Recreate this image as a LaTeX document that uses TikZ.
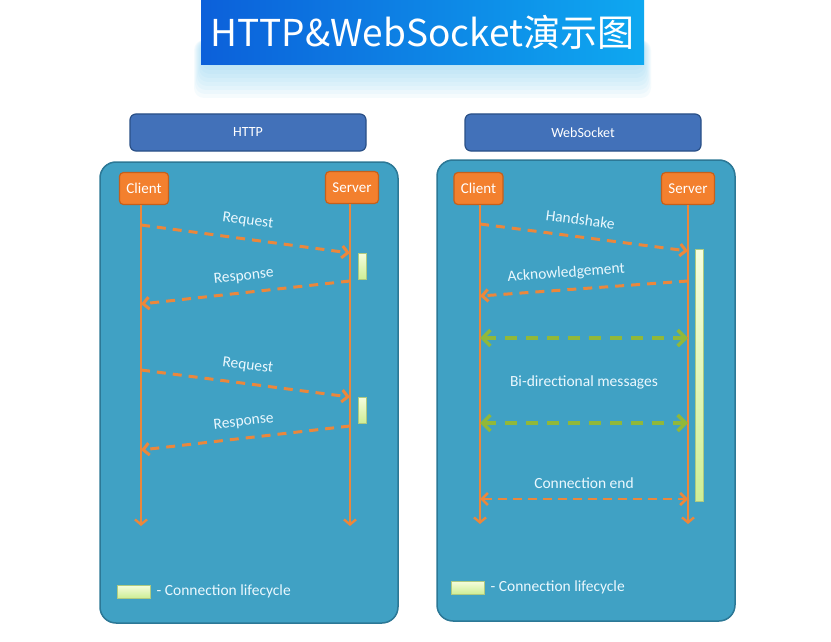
\documentclass[tikz,border=0pt]{standalone}
\usepackage{fontspec}
\setmainfont{Carlito}
\newfontfamily\cjk{Noto Sans CJK SC}
\usetikzlibrary{arrows.meta}

\definecolor{panelblue}{RGB}{64,161,196}
\definecolor{paneledge}{RGB}{44,120,150}
\definecolor{headblue}{RGB}{66,113,185}
\definecolor{headedge}{RGB}{42,80,135}
\definecolor{boxorange}{RGB}{243,128,46}
\definecolor{boxedge}{RGB}{196,96,28}
\definecolor{lineorange}{RGB}{235,135,60}
\definecolor{msggreen}{RGB}{145,184,58}
\definecolor{barlight}{RGB}{246,253,222}
\definecolor{bardark}{RGB}{206,238,150}
\definecolor{titleleft}{RGB}{12,96,218}
\definecolor{titleright}{RGB}{14,168,240}
\definecolor{glow}{RGB}{120,205,240}

\tikzset{
  panel/.style={draw=paneledge, line width=1.5pt, fill=panelblue, rounded corners=16pt,
    minimum width=298pt, minimum height=461pt},
  header/.style={draw=headedge, line width=1.2pt, fill=headblue, rounded corners=6pt,
    minimum width=236pt, minimum height=37pt, text=white, font=\fontsize{14}{16}\selectfont},
  actor/.style={draw=boxedge, line width=1.2pt, fill=boxorange, rounded corners=4pt,
    minimum height=32pt, inner xsep=7pt, text=white, font=\fontsize{15}{17}\selectfont},
  lifebar/.style={draw=bardark!85!black, line width=0.3pt, top color=barlight, bottom color=bardark,
    minimum width=8pt, inner sep=0pt},
  lifeline/.style={lineorange, line width=2.4pt, -{Straight Barb[length=5pt,width=12pt]}},
  msg/.style={lineorange, line width=3pt, dash pattern=on 9pt off 7pt,
    -{Straight Barb[length=6pt,width=12pt]}},
  bimsg/.style={msggreen, line width=3.5pt, dash pattern=on 12pt off 9pt,
    {Straight Barb[length=8pt,width=16pt]}-{Straight Barb[length=8pt,width=16pt]}},
  endmsg/.style={lineorange, line width=2.6pt, dash pattern=on 9pt off 6pt,
    {Straight Barb[length=6pt,width=12pt]}-{Straight Barb[length=6pt,width=12pt]}},
  lbl/.style={text=white!92!cyan, font=\fontsize{15.5}{17}\selectfont}
}

\begin{document}
\begin{tikzpicture}[x=1pt,y=-1pt]
  \useasboundingbox[fill=white] (0,0) rectangle (831,642);
  % title with glow
  \foreach \i in {1,...,9}
    \fill[glow, opacity=0.07, rounded corners=10pt] (203-\i,40) rectangle (642+\i,62+4*\i);
  \node[left color=titleleft, right color=titleright, minimum width=443pt, minimum height=65pt,
    inner sep=0pt, text=white, font=\cjk\fontsize{37}{40}\selectfont] (title) at (422.5,32.5)
    {HTTP\&WebSocket演示图};

  \node[header] (hhttp) at (248,132.5) {HTTP};
  \node[header] (hws) at (583,132.5) {WebSocket};

  \node[panel] (lpanel) at (249,392.5) {};
  \node[panel] (rpanel) at (586,390.5) {};

  % actors
  \node[actor] (c1) at (144,188.5) {Client};
  \node[actor] (s1) at (352,187.5) {Server};
  \node[actor] (c2) at (478.5,188.5) {Client};
  \node[actor] (s2) at (688,188.5) {Server};

  \coordinate (c1end) at (141,526);
  \coordinate (s1end) at (350,526);
  \coordinate (c2end) at (480,524);
  \coordinate (s2end) at (688,524);
  \draw (c1.south -| c1end) edge [lifeline] (c1end);
  \draw (s1.south -| s1end) edge [lifeline] (s1end);
  \draw (c2.south -| c2end) edge [lifeline] (c2end);
  \draw (s2.south -| s2end) edge [lifeline] (s2end);

  % lifecycle bars
  \node[lifebar, minimum height=26pt] (bar1) at (362,266) {};
  \node[lifebar, minimum height=26pt] (bar2) at (362,410) {};
  \node[lifebar, minimum height=252pt] (bar3) at (699,375) {};

  % HTTP messages
  \coordinate (rq1a) at (141,225);  \coordinate (rq1b) at (350,253);
  \coordinate (rs1a) at (350,281);  \coordinate (rs1b) at (141,304);
  \coordinate (rq2a) at (141,370);  \coordinate (rq2b) at (350,397);
  \coordinate (rs2a) at (350,426);  \coordinate (rs2b) at (141,450);
  \draw (rq1a) edge [msg] node[lbl, sloped, above=7pt] {Request} (rq1b);
  \draw (rs1a) edge [msg] node[lbl, sloped, above=5pt] {Response} (rs1b);
  \draw (rq2a) edge [msg] node[lbl, sloped, above=7pt] {Request} (rq2b);
  \draw (rs2a) edge [msg] node[lbl, sloped, above=5pt] {Response} (rs2b);

  % WebSocket messages
  \coordinate (hs1) at (480,224);  \coordinate (hs2) at (688,251);
  \coordinate (ak1) at (688,281);  \coordinate (ak2) at (480,296);
  \coordinate (bd1) at (480,338);  \coordinate (bd2) at (688,338);
  \coordinate (bd3) at (480,423);  \coordinate (bd4) at (688,423);
  \coordinate (ce1) at (480,499);  \coordinate (ce2) at (688,499);
  \draw (hs1) edge [msg] node[lbl, sloped, above=7pt, xshift=-6pt] {Handshake} (hs2);
  \draw (ak1) edge [msg] node[lbl, sloped, above=5pt, pos=0.58] {Acknowledgement} (ak2);
  \draw (bd1) edge [bimsg] (bd2);
  \draw (bd3) edge [bimsg] (bd4);
  \node[lbl] (bdtext) at (584,382) {Bi-directional messages};
  \draw (ce1) edge [endmsg] node[lbl, above=6pt] {Connection end} (ce2);

  % legends
  \node[lifebar, minimum width=33pt, minimum height=13pt] (key1) at (133.5,591.5) {};
  \node[lbl, anchor=west] (key1t) at ([xshift=3pt]key1.east) {- Connection lifecycle};
  \node[lifebar, minimum width=33pt, minimum height=13pt] (key2) at (467.5,587.5) {};
  \node[lbl, anchor=west] (key2t) at ([xshift=3pt]key2.east) {- Connection lifecycle};
\end{tikzpicture}
\end{document}
